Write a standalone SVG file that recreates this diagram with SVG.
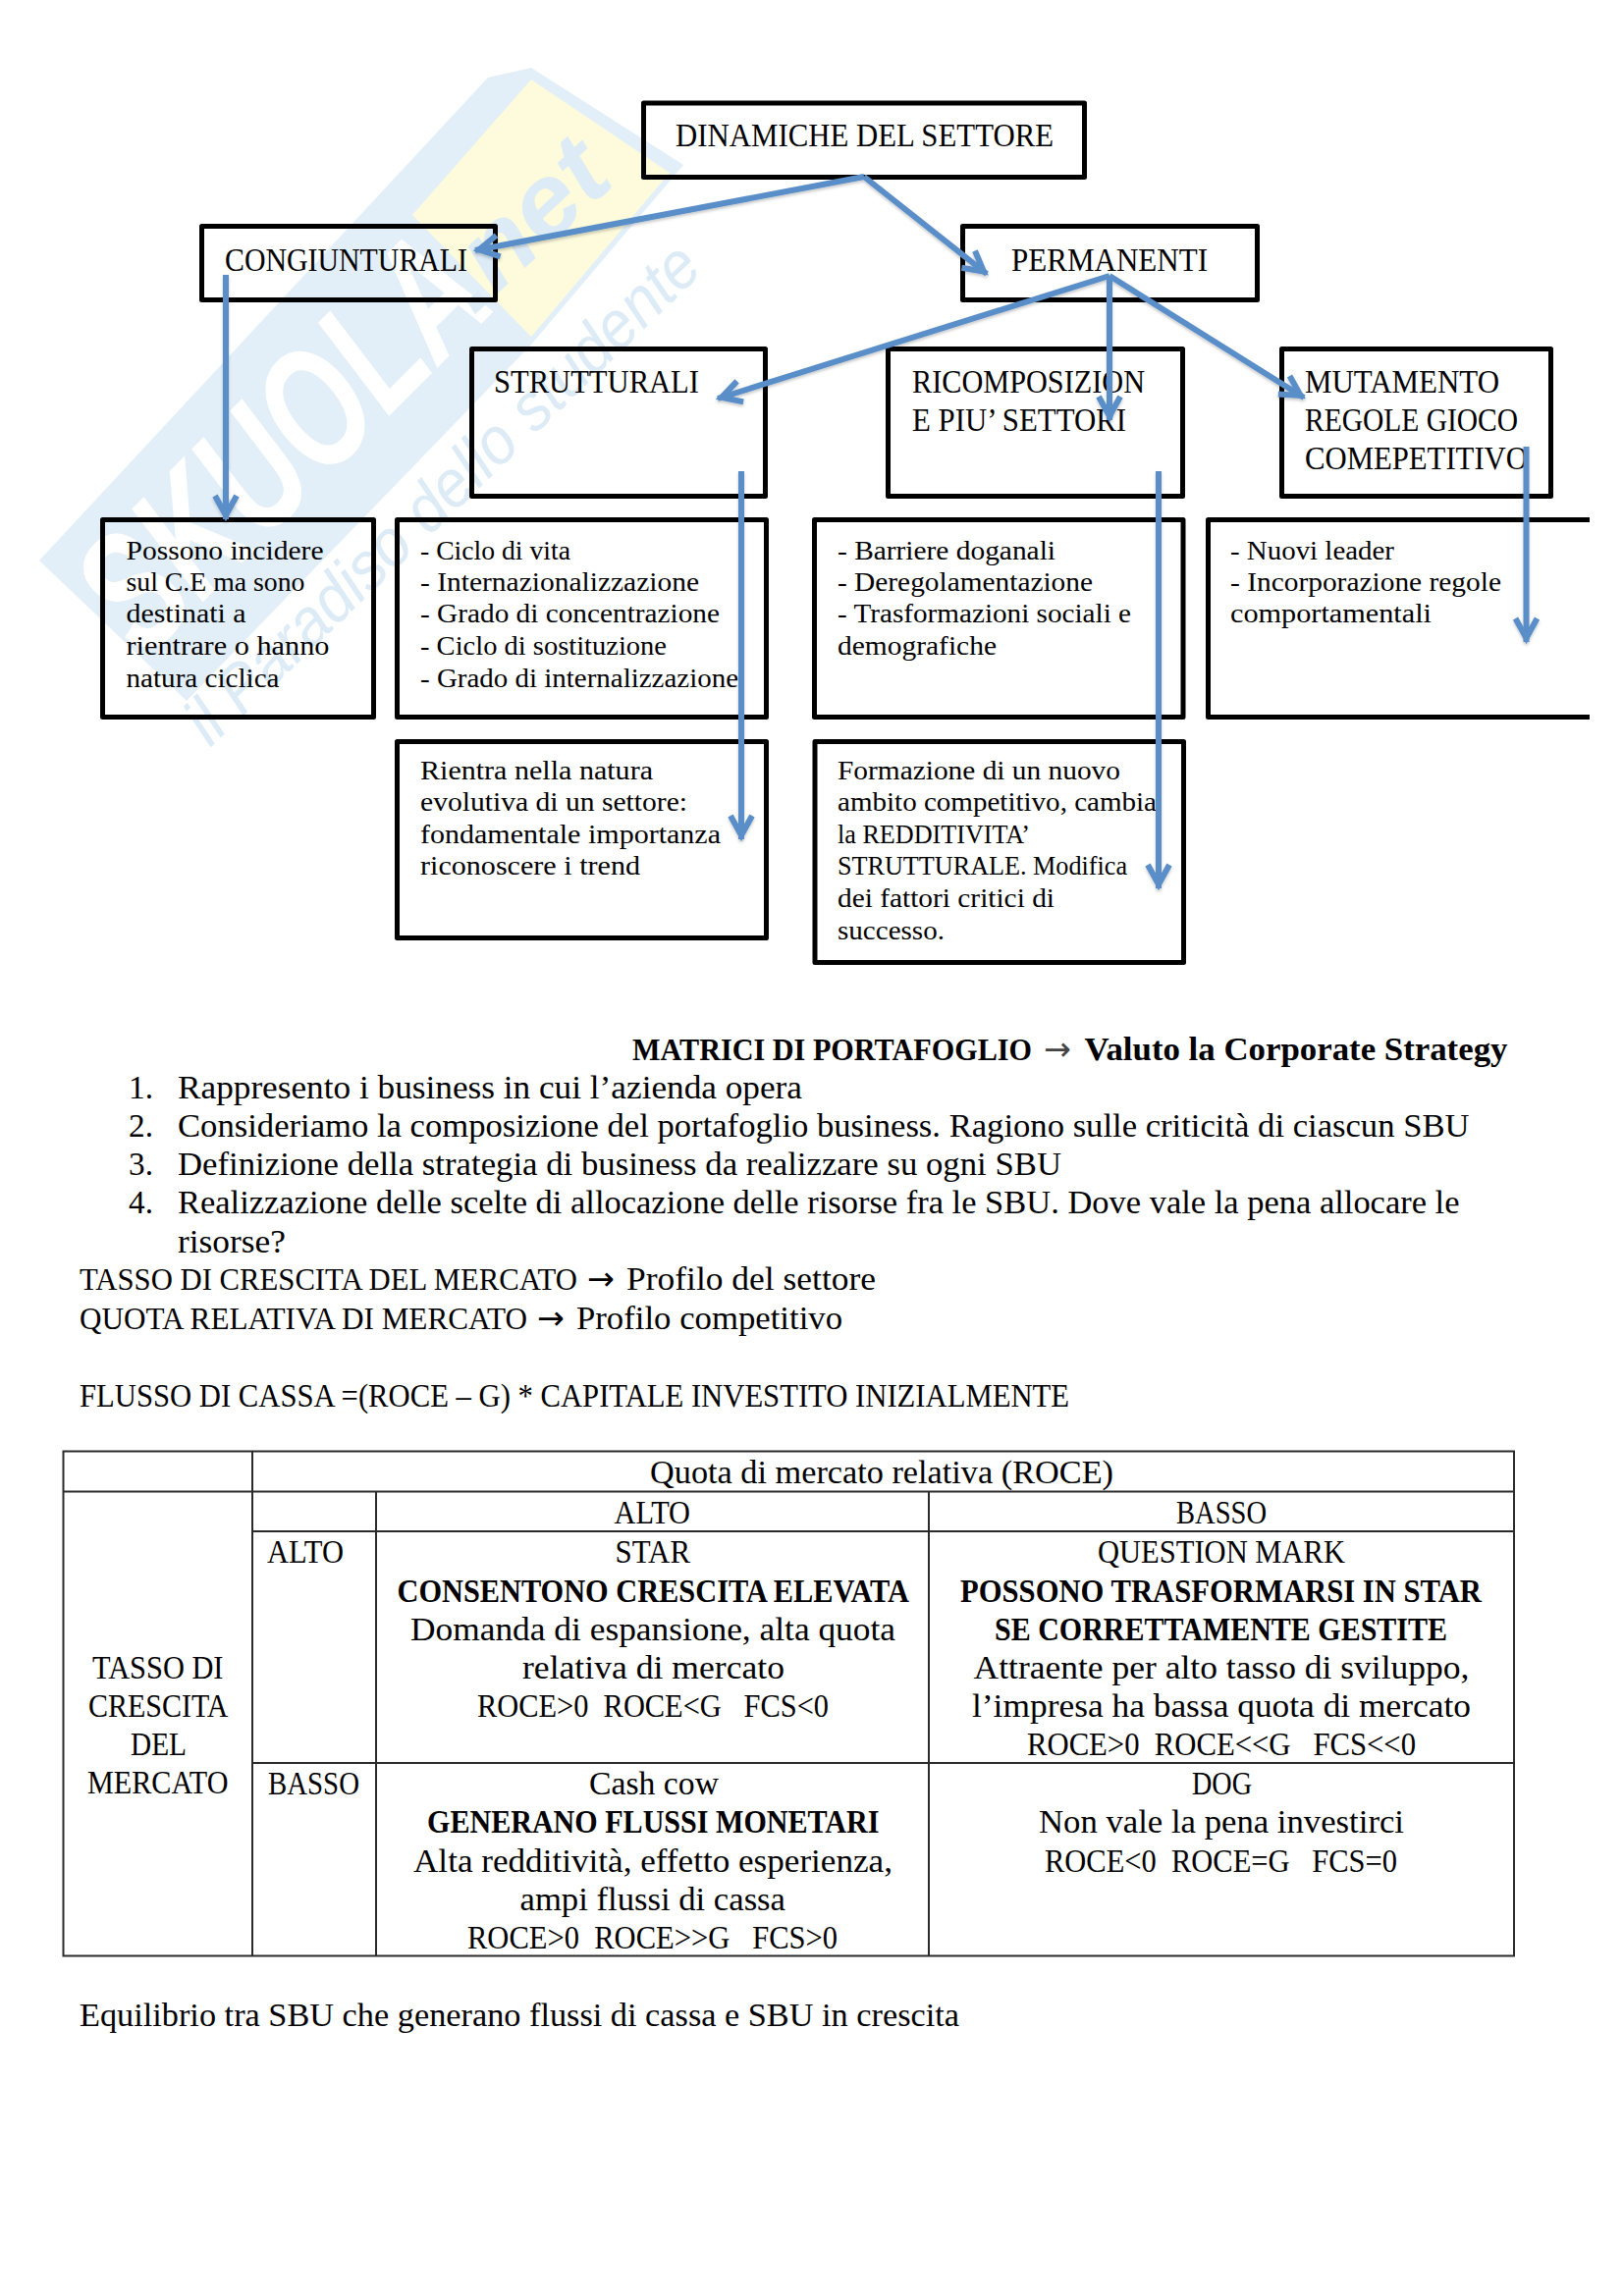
<svg xmlns="http://www.w3.org/2000/svg" width="1653" height="2339" viewBox="0 0 1653 2339">
<style>
text{font-family:"Liberation Serif","Times New Roman",serif;fill:#000;white-space:pre}
.a{font-size:33.3px;transform:translateY(1px)}
.b{font-size:27.8px}
.s{font-weight:bold}
.r{font-family:"DejaVu Sans",sans-serif;font-size:33.3px;transform:translateY(1px)}
.box{fill:none;stroke:#000;stroke-width:5;stroke-linejoin:round}
.c{fill:none;stroke:#5a8ec8;stroke-width:6;marker-end:url(#head)}
.t{fill:none;stroke:#2a2a2a;stroke-width:2}
.w1{font-family:"Liberation Sans",sans-serif;font-weight:bold;font-style:italic;fill:#fff}
.w2{font-family:"Liberation Sans",sans-serif;font-weight:bold;font-style:italic;fill:#dcebf6}
.w3{font-family:"Liberation Sans",sans-serif;font-style:italic;fill:#dcebf6}
</style>
<defs>
<marker id="head" markerUnits="userSpaceOnUse" markerWidth="40" markerHeight="40" refX="31" refY="20" orient="auto" overflow="visible">
<path d="M7,9 L27,20 L7,31" fill="none" stroke="#5a8ec8" stroke-width="6"/>
</marker>
<filter id="sh" x="-10%" y="-10%" width="120%" height="120%"><feDropShadow dx="0" dy="2" stdDeviation="1.5" flood-color="#000" flood-opacity=".22"/></filter>
</defs>
<rect width="1653" height="2339" fill="#fff"/>
<g id="watermark">
<polygon points="40,571 497,79 541,69 696,168 541,351 190,714" fill="#e2eff8"/>
<polygon points="541,81 682,176 541,343 420,219" fill="#fdfbdc"/>
<text class="w1" transform="translate(148,672) rotate(-45)" font-size="172" textLength="510" lengthAdjust="spacingAndGlyphs">SKUOLA</text>
<text class="w2" transform="translate(482,322) rotate(-43)" font-size="105" textLength="200" lengthAdjust="spacingAndGlyphs">.net</text>
<text class="w3" transform="translate(214,762) rotate(-44)" font-size="68" textLength="700" lengthAdjust="spacingAndGlyphs">il Paradiso dello studente</text>
</g>
<g id="n-dinamiche"><rect class="box" x="655.5" y="105" width="449" height="75.500"/><text class="a" x="688" y="148" textLength="385" lengthAdjust="spacingAndGlyphs">DINAMICHE DEL SETTORE</text></g>
<g id="n-congiunturali"><rect class="box" x="205.500" y="230.500" width="299" height="75"/><text class="a" x="229" y="275" textLength="247" lengthAdjust="spacingAndGlyphs">CONGIUNTURALI</text></g>
<g id="n-permanenti"><rect class="box" x="980.500" y="230.500" width="300" height="75"/><text class="a" x="1030" y="275" textLength="200" lengthAdjust="spacingAndGlyphs">PERMANENTI</text></g>
<g id="n-strutturali"><rect class="box" x="480.500" y="355.500" width="299" height="150"/><text class="a" x="503" y="399" textLength="209" lengthAdjust="spacingAndGlyphs">STRUTTURALI</text></g>
<g id="n-ricomposizione"><rect class="box" x="904.500" y="355.500" width="300" height="150"/><text class="a" x="929" y="399" textLength="237" lengthAdjust="spacingAndGlyphs">RICOMPOSIZION</text><text class="a" x="929" y="438" textLength="218" lengthAdjust="spacingAndGlyphs">E PIU’ SETTORI</text></g>
<g id="n-mutamento"><rect class="box" x="1305.500" y="355.500" width="274" height="150"/><text class="a" x="1329" y="399" textLength="198" lengthAdjust="spacingAndGlyphs">MUTAMENTO</text><text class="a" x="1329" y="438" textLength="217" lengthAdjust="spacingAndGlyphs">REGOLE GIOCO</text><text class="a" x="1329" y="477" textLength="227" lengthAdjust="spacingAndGlyphs">COMEPETITIVO</text></g>
<g id="n-possono"><rect class="box" x="104.500" y="529.500" width="276" height="201"/>
<text class="b" x="128.500" y="570" textLength="201" lengthAdjust="spacingAndGlyphs">Possono incidere</text><text class="b" x="128.500" y="602" textLength="182" lengthAdjust="spacingAndGlyphs">sul C.E ma sono</text><text class="b" x="128.500" y="634" textLength="122" lengthAdjust="spacingAndGlyphs">destinati a</text><text class="b" x="128.500" y="667" textLength="207" lengthAdjust="spacingAndGlyphs">rientrare o hanno</text><text class="b" x="128.500" y="700" textLength="156" lengthAdjust="spacingAndGlyphs">natura ciclica</text></g>
<g id="n-ciclo"><rect class="box" x="404.500" y="529.500" width="376" height="201"/>
<text class="b" x="428" y="570" textLength="153" lengthAdjust="spacingAndGlyphs">- Ciclo di vita</text><text class="b" x="428" y="602" textLength="284" lengthAdjust="spacingAndGlyphs">- Internazionalizzazione</text><text class="b" x="428" y="634" textLength="305" lengthAdjust="spacingAndGlyphs">- Grado di concentrazione</text><text class="b" x="428" y="667" textLength="251" lengthAdjust="spacingAndGlyphs">- Ciclo di sostituzione</text><text class="b" x="428" y="700" textLength="324" lengthAdjust="spacingAndGlyphs">- Grado di internalizzazione</text></g>
<g id="n-barriere"><rect class="box" x="829.500" y="529.500" width="375.500" height="201"/>
<text class="b" x="853" y="570" textLength="222" lengthAdjust="spacingAndGlyphs">- Barriere doganali</text><text class="b" x="853" y="602" textLength="260" lengthAdjust="spacingAndGlyphs">- Deregolamentazione</text><text class="b" x="853" y="634" textLength="299" lengthAdjust="spacingAndGlyphs">- Trasformazioni sociali e</text><text class="b" x="853" y="667" textLength="162" lengthAdjust="spacingAndGlyphs">demografiche</text></g>
<g id="n-nuovi"><path class="box" d="M1619,529.500H1230.500V730.500H1619"/>
<text class="b" x="1253" y="570" textLength="167" lengthAdjust="spacingAndGlyphs">- Nuovi leader</text><text class="b" x="1253" y="602" textLength="276" lengthAdjust="spacingAndGlyphs">- Incorporazione regole</text><text class="b" x="1253" y="634" textLength="205" lengthAdjust="spacingAndGlyphs">comportamentali</text></g>
<g id="n-rientra"><rect class="box" x="404.500" y="755.500" width="376" height="200"/>
<text class="b" x="428" y="794" textLength="237" lengthAdjust="spacingAndGlyphs">Rientra nella natura</text><text class="b" x="428" y="826" textLength="272" lengthAdjust="spacingAndGlyphs">evolutiva di un settore:</text><text class="b" x="428" y="859" textLength="306" lengthAdjust="spacingAndGlyphs">fondamentale importanza</text><text class="b" x="428" y="891" textLength="224" lengthAdjust="spacingAndGlyphs">riconoscere i trend</text></g>
<g id="n-formazione"><rect class="box" x="830" y="755.500" width="375.500" height="225"/>
<text class="b" x="853" y="794" textLength="288" lengthAdjust="spacingAndGlyphs">Formazione di un nuovo</text><text class="b" x="853" y="826" textLength="325" lengthAdjust="spacingAndGlyphs">ambito competitivo, cambia</text><text class="b" x="853" y="859" textLength="196" lengthAdjust="spacingAndGlyphs">la REDDITIVITA’</text><text class="b" x="853" y="891" textLength="295" lengthAdjust="spacingAndGlyphs">STRUTTURALE. Modifica</text><text class="b" x="853" y="924" textLength="221" lengthAdjust="spacingAndGlyphs">dei fattori critici di</text><text class="b" x="853" y="957" textLength="109" lengthAdjust="spacingAndGlyphs">successo.</text></g>
<g id="connectors" filter="url(#sh)">
<line class="c" x1="880" y1="180" x2="484" y2="255"/>
<line class="c" x1="880" y1="180" x2="1005" y2="279"/>
<line class="c" x1="1130" y1="281" x2="731" y2="406"/>
<line class="c" x1="1130" y1="281" x2="1130" y2="428"/>
<line class="c" x1="1130" y1="281" x2="1328" y2="405"/>
<line class="c" x1="230" y1="280" x2="230" y2="529"/>
<line class="c" x1="755" y1="480" x2="755" y2="855"/>
<line class="c" x1="1180" y1="480" x2="1180" y2="905"/>
<line class="c" x1="1554.500" y1="455" x2="1554.500" y2="654"/>
</g>
<g id="body">
<text class="a s" x="644" y="1079" style="font-size:31px" textLength="407" lengthAdjust="spacingAndGlyphs">MATRICI DI PORTAFOGLIO</text><text class="r" x="1063" y="1079" style="fill:#444">→</text><text class="a s" x="1104.500" y="1079" textLength="431" lengthAdjust="spacingAndGlyphs">Valuto la Corporate Strategy</text>
<text class="a" x="131" y="1118">1.</text><text class="a" x="181" y="1118" textLength="636" lengthAdjust="spacingAndGlyphs">Rappresento i business in cui l’azienda opera</text>
<text class="a" x="131" y="1157">2.</text><text class="a" x="181" y="1157" textLength="1315.500" lengthAdjust="spacingAndGlyphs">Consideriamo la composizione del portafoglio business. Ragiono sulle criticità di ciascun SBU</text>
<text class="a" x="131" y="1196">3.</text><text class="a" x="181" y="1196" textLength="900" lengthAdjust="spacingAndGlyphs">Definizione della strategia di business da realizzare su ogni SBU</text>
<text class="a" x="131" y="1235">4.</text><text class="a" x="181" y="1235" textLength="1305.500" lengthAdjust="spacingAndGlyphs">Realizzazione delle scelte di allocazione delle risorse fra le SBU. Dove vale la pena allocare le</text>
<text class="a" x="181" y="1274.500" textLength="110" lengthAdjust="spacingAndGlyphs">risorse?</text>
<text class="a" x="81" y="1313" style="font-size:31.500px" textLength="507" lengthAdjust="spacingAndGlyphs">TASSO DI CRESCITA DEL MERCATO</text><text class="r" x="598" y="1313">→</text><text class="a" x="638" y="1313" textLength="254" lengthAdjust="spacingAndGlyphs">Profilo del settore</text>
<text class="a" x="81" y="1352.500" style="font-size:31.500px" textLength="456" lengthAdjust="spacingAndGlyphs">QUOTA RELATIVA DI MERCATO</text><text class="r" x="547" y="1352.500">→</text><text class="a" x="587" y="1352.500" textLength="271" lengthAdjust="spacingAndGlyphs">Profilo competitivo</text>
<text class="a" x="81" y="1431.500" textLength="1008" lengthAdjust="spacingAndGlyphs">FLUSSO DI CASSA =(ROCE – G) * CAPITALE INVESTITO INIZIALMENTE</text>
<text class="a" x="81" y="2063" textLength="896" lengthAdjust="spacingAndGlyphs">Equilibrio tra SBU che generano flussi di cassa e SBU in crescita</text>
</g>
<g id="matrix">
<path class="t" d="M64.500,1478.500H1542V1992.500H64.500ZM64.500,1519.500H1542M257,1560H1542M257,1796H1542M257,1478.500V1992.500M383,1519.500V1992.500M946,1519.500V1992.500"/>
<text class="a" x="662" y="1510" textLength="472" lengthAdjust="spacingAndGlyphs">Quota di mercato relativa (ROCE)</text>
<text class="a" x="625.500" y="1551" textLength="77.500" lengthAdjust="spacingAndGlyphs">ALTO</text>
<text class="a" x="1198" y="1551" textLength="92" lengthAdjust="spacingAndGlyphs">BASSO</text>
<text class="a" x="94" y="1709" textLength="133.500" lengthAdjust="spacingAndGlyphs">TASSO DI</text>
<text class="a" x="90" y="1747.500" textLength="142.500" lengthAdjust="spacingAndGlyphs">CRESCITA</text>
<text class="a" x="133" y="1787" textLength="57" lengthAdjust="spacingAndGlyphs">DEL</text>
<text class="a" x="89" y="1826" textLength="143.500" lengthAdjust="spacingAndGlyphs">MERCATO</text>
<text class="a" x="272" y="1590.500" textLength="78" lengthAdjust="spacingAndGlyphs">ALTO</text>
<text class="a" x="273" y="1827" textLength="93" lengthAdjust="spacingAndGlyphs">BASSO</text>
<text class="a" x="626.500" y="1590.500" textLength="76.500" lengthAdjust="spacingAndGlyphs">STAR</text>
<text class="a s" x="404.500" y="1631" textLength="521.500" lengthAdjust="spacingAndGlyphs">CONSENTONO CRESCITA ELEVATA</text>
<text class="a" x="418" y="1669.500" textLength="494" lengthAdjust="spacingAndGlyphs">Domanda di espansione, alta quota</text>
<text class="a" x="532" y="1709" textLength="267" lengthAdjust="spacingAndGlyphs">relativa di mercato</text>
<text class="a" x="486" y="1747.500" textLength="358" lengthAdjust="spacingAndGlyphs">ROCE&gt;0  ROCE&lt;G   FCS&lt;0</text>
<text class="a" x="1118" y="1590.500" textLength="252" lengthAdjust="spacingAndGlyphs">QUESTION MARK</text>
<text class="a s" x="978" y="1631" textLength="531" lengthAdjust="spacingAndGlyphs">POSSONO TRASFORMARSI IN STAR</text>
<text class="a s" x="1013" y="1669.500" textLength="461" lengthAdjust="spacingAndGlyphs">SE CORRETTAMENTE GESTITE</text>
<text class="a" x="991.500" y="1709" textLength="505" lengthAdjust="spacingAndGlyphs">Attraente per alto tasso di sviluppo,</text>
<text class="a" x="990" y="1747.500" textLength="508" lengthAdjust="spacingAndGlyphs">l’impresa ha bassa quota di mercato</text>
<text class="a" x="1046" y="1786.500" textLength="396" lengthAdjust="spacingAndGlyphs">ROCE&gt;0  ROCE&lt;&lt;G   FCS&lt;&lt;0</text>
<text class="a" x="600" y="1827" textLength="132" lengthAdjust="spacingAndGlyphs">Cash cow</text>
<text class="a s" x="435" y="1866" textLength="460.500" lengthAdjust="spacingAndGlyphs">GENERANO FLUSSI MONETARI</text>
<text class="a" x="421" y="1905.500" textLength="488" lengthAdjust="spacingAndGlyphs">Alta redditività, effetto esperienza,</text>
<text class="a" x="529.500" y="1945" textLength="270.500" lengthAdjust="spacingAndGlyphs">ampi flussi di cassa</text>
<text class="a" x="476" y="1984" textLength="377" lengthAdjust="spacingAndGlyphs">ROCE&gt;0  ROCE&gt;&gt;G   FCS&gt;0</text>
<text class="a" x="1214" y="1827" textLength="61" lengthAdjust="spacingAndGlyphs">DOG</text>
<text class="a" x="1058" y="1866" textLength="372" lengthAdjust="spacingAndGlyphs">Non vale la pena investirci</text>
<text class="a" x="1064" y="1905.500" textLength="359" lengthAdjust="spacingAndGlyphs">ROCE&lt;0  ROCE=G   FCS=0</text>
</g>
</svg>
